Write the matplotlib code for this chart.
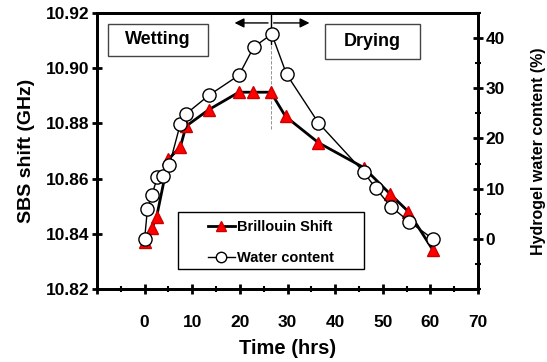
import matplotlib
matplotlib.use("Agg")
import matplotlib.pyplot as plt
from matplotlib.ticker import MultipleLocator
from matplotlib.lines import Line2D
from matplotlib.patches import Rectangle

plt.rcParams['font.family'] = ['Liberation Sans', 'DejaVu Sans']
plt.rcParams['font.weight'] = 'bold'

# Brillouin shift data (GHz) vs time (hrs)
t_sbs = [0, 1.5, 2.5, 5, 7.5, 8.7, 13.5, 19.8, 22.7, 26.5, 29.6, 36.5, 46, 51.5, 55.4, 60.5]
sbs = [10.837, 10.842, 10.846, 10.867, 10.8715, 10.879, 10.885, 10.8913, 10.8913, 10.8913,
       10.8825, 10.873, 10.864, 10.8545, 10.848, 10.8342]

# Hydrogel water content (%) vs time (hrs)
t_w = [0, 0.6, 1.5, 2.7, 3.9, 5.2, 7.5, 8.7, 13.5, 19.8, 22.9, 26.7, 29.8, 36.5, 46, 48.5, 51.7, 55.6, 60.5]
water = [0, 6.0, 8.7, 12.3, 12.5, 14.7, 22.9, 24.9, 28.6, 32.6, 38.2, 40.8, 32.8, 23.1, 13.3, 10.1, 6.4, 3.4, 0]

xticks = [-10, 0, 10, 20, 30, 40, 50, 60, 70]
xticklabels = ['', '0', '10', '20', '30', '40', '50', '60', '70']
yticks_left = [10.82, 10.84, 10.86, 10.88, 10.90, 10.92]
yticks_right = [0, 10, 20, 30, 40]

fig = plt.figure(figsize=(5.47, 3.62), dpi=100)
ax = fig.add_axes([97/547, 1-289/362, (478-97)/547, (289-13)/362])
ax2 = ax.twinx()

ax.set_xlim(-10, 70)
ax.set_ylim(10.82, 10.92)
ax2.set_ylim(-10, 45)

fs = 12.5
ax.set_xticks(xticks)
ax.set_xticklabels(xticklabels, fontsize=fs, fontweight='bold')
ax.xaxis.set_minor_locator(MultipleLocator(5))
ax.set_yticks(yticks_left)
ax.set_yticklabels(['%.2f' % v for v in yticks_left], fontsize=fs, fontweight='bold')
ax2.set_yticks(yticks_right)
ax2.set_yticklabels([str(v) for v in yticks_right], fontsize=fs, fontweight='bold')
ax2.yaxis.set_minor_locator(MultipleLocator(5))

for a in (ax, ax2):
    for s in a.spines.values():
        s.set_linewidth(2)
    a.tick_params(which='major', direction='inout', length=7, width=2, pad=2)
    a.tick_params(which='minor', direction='inout', length=5, width=1.5)
ax.tick_params(axis='x', pad=15)

ax.set_xlabel('Time (hrs)', fontsize=14.5, fontweight='bold', labelpad=7)
ax.set_ylabel('SBS shift (GHz)', fontsize=14, fontweight='bold', labelpad=8)
ax2.set_ylabel('Hydrogel water content (%)', fontsize=11.5, fontweight='bold', labelpad=19)

# vertical separator
ax.axvline(26.5, ymin=0.58, ymax=1.0, color='gray', lw=0.6, ls=(0, (4, 2)), zorder=1)
ax.plot([26.5, 26.5], [10.92, 10.9087], color='black', lw=1, zorder=2)

# data
ax.plot(t_sbs, sbs, color='black', lw=2, marker='^', ms=9, mfc='red', mec='#cc0000',
        zorder=3, clip_on=False)
ax2.plot(t_w, water, color='black', lw=1, marker='o', ms=9.5, mfc='white', mec='black',
         mew=1, zorder=4, clip_on=False)
ax2.set_zorder(ax.get_zorder() + 1)
ax2.patch.set_visible(False)

# double arrow
ax.annotate('', xy=(18.3, 10.9164), xytext=(26.5, 10.9164),
            arrowprops=dict(arrowstyle='-|>', color='black', lw=1, mutation_scale=14))
ax.annotate('', xy=(35.2, 10.9164), xytext=(26.5, 10.9164),
            arrowprops=dict(arrowstyle='-|>', color='black', lw=1, mutation_scale=14))

# text boxes
ax2.add_patch(Rectangle((108/547, 1-56/362), 100/547, 32/362, transform=fig.transFigure,
                        fc='white', ec='#444444', lw=1, zorder=5, clip_on=False))
ax2.text(158/547, 1-40/362, 'Wetting', transform=fig.transFigure, ha='center', va='center',
         fontsize=13, fontweight='bold', zorder=6)
ax2.add_patch(Rectangle((325/547, 1-59/362), 95/547, 35/362, transform=fig.transFigure,
                        fc='white', ec='#444444', lw=1, zorder=5, clip_on=False))
ax2.text(372.5/547, 1-42/362, 'Drying', transform=fig.transFigure, ha='center', va='center',
         fontsize=13, fontweight='bold', zorder=6)

# legend
ax2.add_patch(Rectangle((178/547, 1-269/362), 186/547, 57/362, transform=fig.transFigure,
                        fc='white', ec='black', lw=1, zorder=5, clip_on=False))
handles = [Line2D([], [], color='black', lw=2, marker='^', ms=7.5, mfc='red', mec='#cc0000'),
           Line2D([], [], color='black', lw=1, marker='o', ms=7.5, mfc='white', mec='black')]
leg = ax2.legend(handles, ['Brillouin Shift', 'Water content'],
                 loc='center left', bbox_to_anchor=(208/547, 1-242.5/362),
                 bbox_transform=fig.transFigure, frameon=False,
                 handlelength=1.85, handletextpad=0.15,
                 borderpad=0, labelspacing=1.15, borderaxespad=0,
                 prop=dict(weight='bold', size=10.5))
leg.set_zorder(7)

fig.savefig('out.png', dpi=100)
